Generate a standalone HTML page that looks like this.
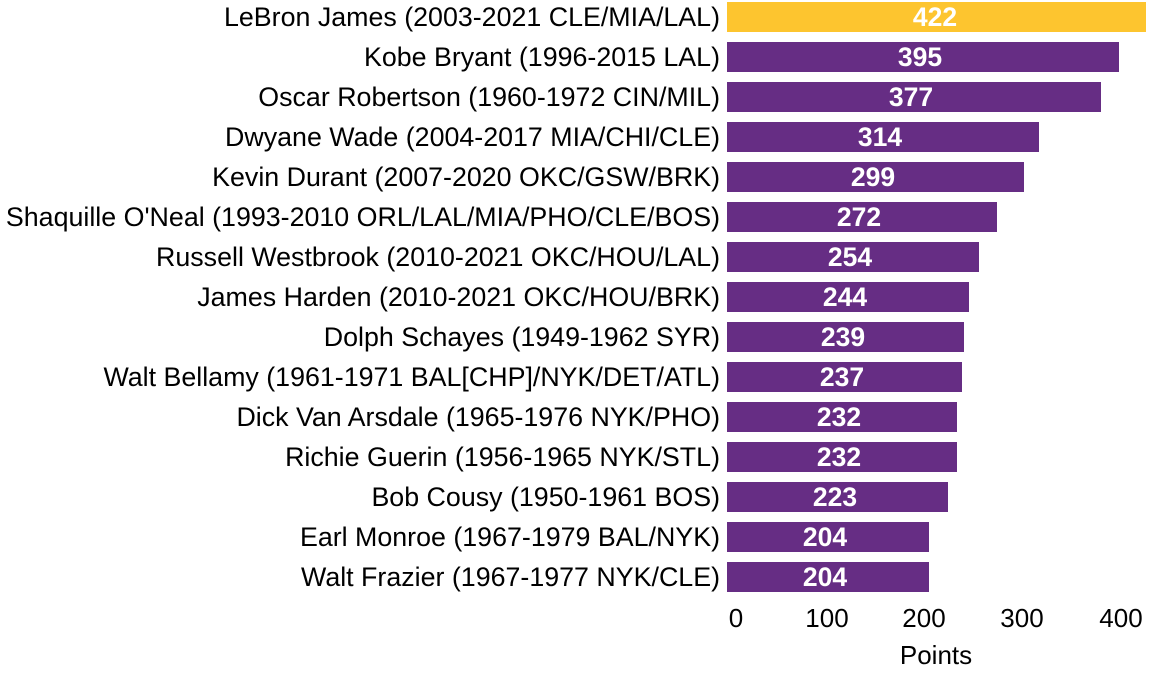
<!DOCTYPE html>
<html><head><style>
body{margin:0;width:1149px;height:671px;background:#fff;overflow:hidden;font-family:"Liberation Sans",Arial,sans-serif;}
svg text{font-family:"Liberation Sans",Arial,sans-serif;}
</style></head><body>
<svg width="1149" height="671" xmlns="http://www.w3.org/2000/svg">
<g>
<rect x="727" y="2" width="419" height="30" fill="#fdc52f"/>
<rect x="727" y="42" width="392" height="30" fill="#662d84"/>
<rect x="727" y="82" width="374" height="30" fill="#662d84"/>
<rect x="727" y="122" width="312" height="30" fill="#662d84"/>
<rect x="727" y="162" width="297" height="30" fill="#662d84"/>
<rect x="727" y="202" width="270" height="30" fill="#662d84"/>
<rect x="727" y="242" width="252" height="30" fill="#662d84"/>
<rect x="727" y="282" width="242" height="30" fill="#662d84"/>
<rect x="727" y="322" width="237" height="30" fill="#662d84"/>
<rect x="727" y="362" width="235" height="30" fill="#662d84"/>
<rect x="727" y="402" width="230" height="30" fill="#662d84"/>
<rect x="727" y="442" width="230" height="30" fill="#662d84"/>
<rect x="727" y="482" width="221" height="30" fill="#662d84"/>
<rect x="727" y="522" width="202" height="30" fill="#662d84"/>
<rect x="727" y="562" width="202" height="30" fill="#662d84"/>
</g>
<g font-size="26.8" fill="#000" text-anchor="end">
<text x="720" y="26">LeBron James (2003-2021 CLE/MIA/LAL)</text>
<text x="720" y="66">Kobe Bryant (1996-2015 LAL)</text>
<text x="720" y="106">Oscar Robertson (1960-1972 CIN/MIL)</text>
<text x="720" y="146">Dwyane Wade (2004-2017 MIA/CHI/CLE)</text>
<text x="720" y="186">Kevin Durant (2007-2020 OKC/GSW/BRK)</text>
<text x="720" y="226">Shaquille O'Neal (1993-2010 ORL/LAL/MIA/PHO/CLE/BOS)</text>
<text x="720" y="266">Russell Westbrook (2010-2021 OKC/HOU/LAL)</text>
<text x="720" y="306">James Harden (2010-2021 OKC/HOU/BRK)</text>
<text x="720" y="346">Dolph Schayes (1949-1962 SYR)</text>
<text x="720" y="386">Walt Bellamy (1961-1971 BAL[CHP]/NYK/DET/ATL)</text>
<text x="720" y="426">Dick Van Arsdale (1965-1976 NYK/PHO)</text>
<text x="720" y="466">Richie Guerin (1956-1965 NYK/STL)</text>
<text x="720" y="506">Bob Cousy (1950-1961 BOS)</text>
<text x="720" y="546">Earl Monroe (1967-1979 BAL/NYK)</text>
<text x="720" y="586">Walt Frazier (1967-1977 NYK/CLE)</text>
</g>
<g font-size="26.5" font-weight="bold" fill="#fff" text-anchor="middle">
<text x="935" y="26">422</text>
<text x="920" y="66">395</text>
<text x="911" y="106">377</text>
<text x="880" y="146">314</text>
<text x="873" y="186">299</text>
<text x="859" y="226">272</text>
<text x="850" y="266">254</text>
<text x="845" y="306">244</text>
<text x="843" y="346">239</text>
<text x="842" y="386">237</text>
<text x="839" y="426">232</text>
<text x="839" y="466">232</text>
<text x="835" y="506">223</text>
<text x="825" y="546">204</text>
<text x="825" y="586">204</text>
</g>
<g font-size="26" fill="#000" text-anchor="middle">
<text x="736" y="627">0</text>
<text x="827" y="627">100</text>
<text x="924" y="627">200</text>
<text x="1022" y="627">300</text>
<text x="1121" y="627">400</text>
<text x="936" y="664">Points</text>
</g>
</svg>
</body></html>
